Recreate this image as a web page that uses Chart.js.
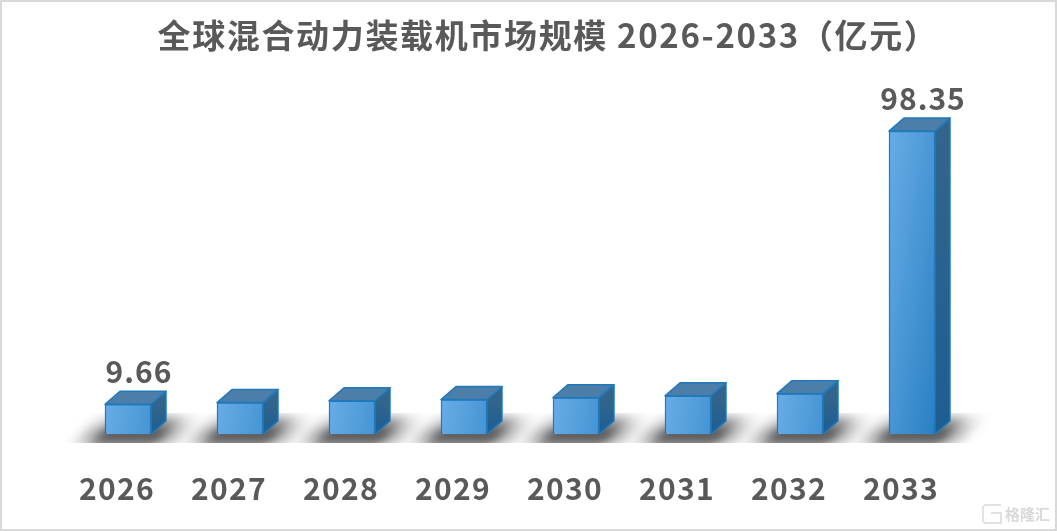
<!DOCTYPE html>
<html>
<head>
<meta charset="utf-8">
<script src="https://cdn.jsdelivr.net/npm/chart.js@4"></script>
<style>
html, body { margin: 0; padding: 0; background: #fff; }
#wrap { width: 1057px; height: 531px; position: relative; }
</style>
</head>
<body>
<div id="wrap"><canvas id="barchart" width="1057" height="531"></canvas></div>
<script>
var titleText = '全球混合动力装载机市场规模 2026-2033（亿元）';
var years = ['2026', '2027', '2028', '2029', '2030', '2031', '2032', '2033'];
var marketSize = [9.66, 10.2, 10.8, 11.2, 11.8, 12.4, 13.1, 98.35];
var shownLabels = ['9.66', '', '', '', '', '', '', '98.35'];

var textColor = '#595959';
var fontName = '"Noto Sans CJK SC", "Noto Sans", sans-serif';
var depthX = 15, depthY = 13;

function frontFill(c) {
  var area = c.chart.chartArea;
  if (!area) return '#5ba6e3';
  var x = c.chart.scales.x.getPixelForValue(c.dataIndex);
  var top = c.chart.scales.y.getPixelForValue(c.raw);
  // mostly sideways, tips a little so the tall bar darkens towards its foot
  var g = c.chart.ctx.createLinearGradient(x - 23, top, x + 67, top + 14);
  g.addColorStop(0, '#68ade6');
  g.addColorStop(1, '#2a80c4');
  return g;
}

function shadowShape(ctx, bar, base, topL, topR, blur, alpha) {
  // slanted band, runs past the clip at the bottom so that edge stays hard
  var slant = 34;
  ctx.filter = 'blur(' + blur + 'px)';
  var g = ctx.createLinearGradient(0, base - 21, 0, base + 16);
  g.addColorStop(0, 'rgba(50,50,50,' + alpha * 0.1 + ')');
  g.addColorStop(0.6, 'rgba(40,40,40,' + alpha + ')');
  g.addColorStop(1, 'rgba(70,70,70,' + alpha * 0.3 + ')');
  ctx.fillStyle = g;
  ctx.beginPath();
  ctx.moveTo(bar.x + topL, base - 18);
  ctx.lineTo(bar.x + topR, base - 18);
  ctx.lineTo(bar.x + topR - slant, base + 16);
  ctx.lineTo(bar.x + topL - slant, base + 16);
  ctx.closePath();
  ctx.fill();
}

// floor shadow under every bar, drawn before the bars
var floorShadow = {
  id: 'floorShadow',
  beforeDatasetsDraw: function(chart) {
    var ctx = chart.ctx;
    var base = chart.chartArea.bottom;
    chart.getDatasetMeta(0).data.forEach(function(bar) {
      ctx.save();
      ctx.beginPath();
      ctx.rect(bar.x - 75, base - 21, 165, 30);
      ctx.clip();
      shadowShape(ctx, bar, base, -26, 72, 6, 0.4);
      shadowShape(ctx, bar, base, -10, 56, 5, 0.75);
      ctx.restore();
    });
  }
};

// top and side faces of the boxes, plus the two value labels
var boxFaces = {
  id: 'boxFaces',
  afterDatasetsDraw: function(chart) {
    var ctx = chart.ctx;
    chart.getDatasetMeta(0).data.forEach(function(bar, i) {
      var l = bar.x - bar.width / 2, r = bar.x + bar.width / 2;
      var t = bar.y, b = bar.base;
      ctx.save();
      ctx.lineWidth = 1.5;
      ctx.strokeStyle = '#2079bd';
      ctx.lineJoin = 'round';

      var side = ctx.createLinearGradient(0, t, 0, b);
      side.addColorStop(0, '#33658c');
      side.addColorStop(1, '#1c5e92');
      ctx.fillStyle = side;
      ctx.beginPath();
      ctx.moveTo(r, t);
      ctx.lineTo(r + depthX, t - depthY);
      ctx.lineTo(r + depthX, b - depthY);
      ctx.lineTo(r, b);
      ctx.closePath();
      ctx.fill();
      ctx.stroke();

      ctx.fillStyle = '#4b7ea8';
      ctx.beginPath();
      ctx.moveTo(l, t);
      ctx.lineTo(l + depthX, t - depthY);
      ctx.lineTo(r + depthX, t - depthY);
      ctx.lineTo(r, t);
      ctx.closePath();
      ctx.fill();
      ctx.stroke();

      if (shownLabels[i]) {
        ctx.fillStyle = textColor;
        ctx.font = 'bold 30px ' + fontName;
        ctx.letterSpacing = '1px';
        ctx.textAlign = 'center';
        ctx.textBaseline = 'alphabetic';
        ctx.fillText(shownLabels[i], bar.x + 11, t - 21.5);
      }
      ctx.restore();
    });
  }
};

// title, frame and the corner mark
var frameMark = {
  id: 'frameMark',
  afterDraw: function(chart) {
    var ctx = chart.ctx;
    ctx.save();
    ctx.fillStyle = textColor;
    ctx.font = 'bold 33px ' + fontName;
    ctx.letterSpacing = '1.65px';
    ctx.textAlign = 'center';
    ctx.textBaseline = 'alphabetic';
    ctx.fillText(titleText, 548, 48);

    ctx.letterSpacing = '0px';
    ctx.strokeStyle = '#d9d9d9';
    ctx.lineWidth = 2;
    ctx.strokeRect(1, 1, 1055, 529);
    ctx.lineWidth = 1.5;
    ctx.beginPath();
    ctx.moveTo(1001, 505);
    ctx.lineTo(985, 505);
    ctx.lineTo(983, 507);
    ctx.lineTo(983, 521);
    ctx.lineTo(985, 523);
    ctx.lineTo(1001, 523);
    ctx.lineTo(1001, 513);
    ctx.lineTo(991, 513);
    ctx.stroke();
    ctx.fillStyle = '#d9d9d9';
    ctx.font = 'bold 15px ' + fontName;
    ctx.textAlign = 'left';
    ctx.fillText('格隆汇', 1005, 520);
    ctx.restore();
  }
};

// same letter spacing for the ticks
var wideText = {
  id: 'wideText',
  beforeDraw: function(chart) {
    chart.ctx.letterSpacing = '1.3px';
  }
};

Chart.defaults.font.family = fontName;

var ch1 = document.getElementById('barchart').getContext('2d');
var barchart = new Chart(ch1, {
  type: 'bar',
  data: {
    labels: years,
    datasets: [{
      data: marketSize,
      backgroundColor: frontFill,
      borderColor: '#2079bd',
      borderWidth: 1.5,
      barThickness: 46
    }]
  },
  options: {
    responsive: false,
    animation: false,
    layout: {
      padding: { left: 72, right: 89, top: 126, bottom: 0 }
    },
    plugins: {
      legend: { display: false },
      tooltip: { enabled: false },
      title: { display: false }
    },
    scales: {
      x: {
        grid: { display: false },
        border: { display: false },
        afterFit: function(scale) { scale.height = 97; },
        ticks: {
          color: textColor,
          font: { size: 30, weight: 'bold' },
          padding: 29,
          labelOffset: -11,
          maxRotation: 0
        }
      },
      y: {
        display: false,
        min: 0,
        max: 100
      }
    }
  },
  plugins: [wideText, floorShadow, boxFaces, frameMark]
});
</script>
</body>
</html>
